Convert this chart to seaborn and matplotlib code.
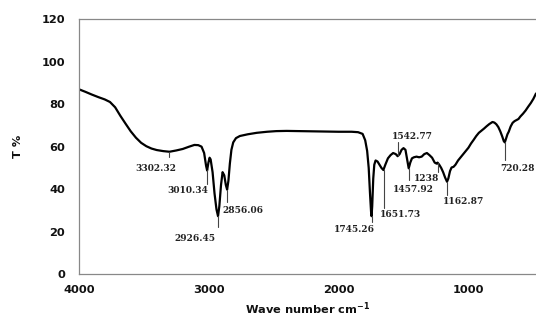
import matplotlib
matplotlib.use("Agg")
import matplotlib.pyplot as plt
import seaborn as sns
import pandas as pd

# Spectrum (wavenumber cm-1, transmittance %)
wavenumber = [4000, 3950, 3900, 3850, 3800, 3760, 3720, 3680, 3640, 3600,
              3560, 3520, 3480, 3440, 3400, 3350, 3302, 3250, 3200, 3150,
              3110, 3080, 3055, 3035, 3020, 3012, 3002, 2993, 2985, 2970,
              2955, 2940, 2928, 2918, 2905, 2893, 2880, 2868, 2858, 2848,
              2837, 2825, 2811, 2790, 2760, 2700, 2630, 2550, 2480, 2400,
              2300, 2200, 2100, 2000, 1900, 1850, 1815, 1795, 1780, 1768,
              1758, 1750, 1746, 1741, 1733, 1725, 1715, 1700, 1685, 1670,
              1655, 1640, 1620, 1600, 1580, 1560, 1545, 1530, 1515, 1500,
              1485, 1472, 1460, 1448, 1435, 1420, 1400, 1380, 1360, 1340,
              1320, 1300, 1280, 1260, 1245, 1238, 1225, 1210, 1195, 1180,
              1165, 1155, 1142, 1130, 1115, 1100, 1080, 1060, 1040, 1020,
              1000, 980, 960, 940, 920, 900, 880, 860, 840, 815,
              800, 785, 770, 755, 740, 728, 720, 712, 700, 690,
              675, 660, 645, 630, 615, 600, 580, 560, 540, 520,
              500, 480]
transmittance = [87.0, 85.8, 84.5, 83.3, 82.2, 81.0, 78.5, 74.5, 70.8, 67.2,
                 64.2, 61.8, 60.2, 59.1, 58.4, 57.9, 57.6, 58.2, 58.9, 60.0,
                 60.8, 60.7, 60.0, 57.0, 51.0, 48.8, 52.5, 54.8, 54.0, 48.0,
                 38.0, 30.5, 27.3, 32.0, 42.0, 48.0, 46.5, 42.0, 39.8, 44.0,
                 52.0, 58.5, 62.0, 64.0, 65.0, 65.8, 66.5, 67.0, 67.3, 67.4,
                 67.3, 67.2, 67.1, 67.0, 67.0, 66.8, 66.0, 63.0, 58.0, 50.0,
                 38.0, 29.5, 27.3, 32.0, 45.0, 51.5, 53.5, 53.0, 51.5, 50.0,
                 49.0, 51.5, 54.5, 56.0, 57.0, 56.5, 55.5, 56.5, 58.5, 59.3,
                 58.5, 54.0, 49.8, 52.5, 54.5, 55.0, 55.3, 55.0, 55.3, 56.5,
                 57.0, 56.0, 54.8, 52.5, 52.0, 52.5, 51.5, 50.0, 48.0, 45.5,
                 43.5, 45.0, 48.5, 50.2, 50.5, 51.5, 53.5, 55.0, 56.5, 58.0,
                 59.5, 61.5, 63.2, 65.0, 66.5, 67.5, 68.5, 69.6, 70.6, 71.6,
                 71.3, 70.5, 69.2, 67.2, 64.8, 62.6, 62.0, 63.5, 65.8, 67.0,
                 69.5, 71.2, 72.0, 72.5, 73.0, 74.2, 75.5, 77.0, 78.8, 80.5,
                 82.5, 85.0]

# Peak labels
peak_labels = ["3302.32", "3010.34", "2926.45", "2856.06", "1745.26",
               "1651.73", "1542.77", "1457.92", "1238", "1162.87", "720.28"]
peak_positions = [3302.32, 3010.34, 2926.45, 2856.06, 1745.26,
                  1651.73, 1542.77, 1457.92, 1238, 1162.87, 720.28]

x_ticks = [4000, 3000, 2000, 1000]
y_ticks = [0, 20, 40, 60, 80, 100, 120]

df = pd.DataFrame({"wn": wavenumber, "T": transmittance})

sns.set_theme(style="white")
plt.rcParams["font.family"] = ["DejaVu Sans"]

fig = plt.figure(figsize=(5.36, 3.23), dpi=100)
ax = fig.add_axes([0.147, 0.151, 0.853, 0.790])

sns.lineplot(data=df, x="wn", y="T", ax=ax, color="black", lw=1.6,
             sort=False, estimator=None)

ax.set_xlim(4000, 480)
ax.set_ylim(0, 120)
ax.set_xticks(x_ticks)
ax.set_yticks(y_ticks)
ax.set_xticklabels([str(t) for t in x_ticks], fontweight="bold", fontsize=8.2)
ax.set_yticklabels([str(t) for t in y_ticks], fontweight="bold", fontsize=8.2)
ax.tick_params(axis="both", direction="out", length=3, width=0.8,
               color="#888888", labelcolor="#111111")
ax.tick_params(axis="x", pad=5)
ax.tick_params(axis="y", pad=7)
ax.set_xlabel("Wave number cm$^{\\mathbf{-1}}$", fontweight="bold",
              fontsize=8.2, color="#111111", labelpad=4)
ax.set_ylabel("T %", fontweight="bold", fontsize=8.2, color="#111111",
              labelpad=13)

for side in ["left", "bottom", "top"]:
    ax.spines[side].set_color("#888888")
    ax.spines[side].set_linewidth(0.9)
ax.spines["right"].set_visible(False)

# layout of annotations: (line y0, line y1, text x, text y, ha)
layout = [
    (57.6, 55.3, 3250, 49.8, "right"),
    (48.8, 42.5, 3005, 39.6, "right"),
    (27.3, 22.2, 2950, 16.9, "right"),
    (39.8, 34.1, 2893, 29.9, "left"),
    (27.3, 24.7, 1718, 20.8, "right"),
    (49.0, 31.0, 1681, 27.9, "left"),
    (55.8, 62.3, 1590, 64.7, "left"),
    (49.8, 44.3, 1427, 39.9, "center"),
    (52.5, 48.2, 1228, 45.1, "right"),
    (43.5, 37.3, 1198, 34.1, "left"),
    (62.0, 53.7, 757, 49.8, "left"),
]
for label, pos, (y0, y1, tx, ty, ha) in zip(peak_labels, peak_positions, layout):
    ax.plot([pos, pos], [y0, y1], color="#444444", lw=0.8)
    ax.text(tx, ty, label, ha=ha, va="center", fontsize=6.5,
            fontweight="bold", family="DejaVu Serif", color="#222222")

fig.savefig("out.png", dpi=100)
